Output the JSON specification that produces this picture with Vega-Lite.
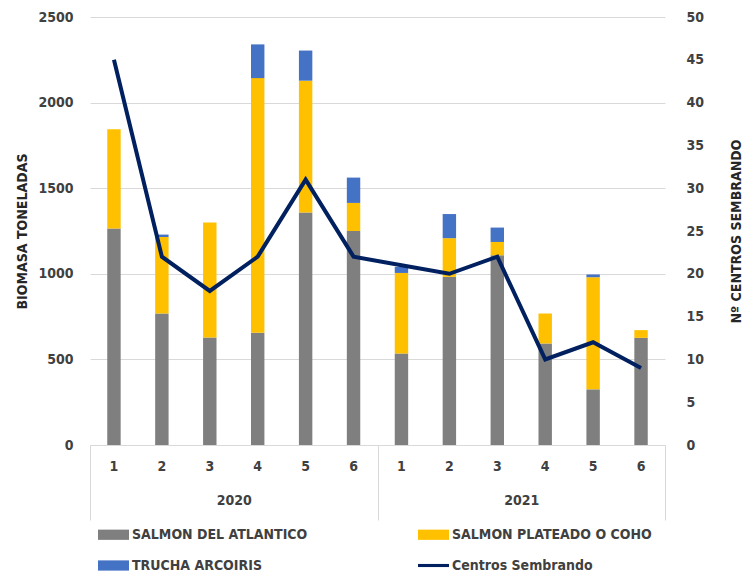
{
  "$schema": "https://vega.github.io/schema/vega-lite/v6.json",
  "width": 575,
  "height": 428,
  "autosize": {"type": "none"},
  "padding": {"left": 90, "top": 17, "right": 88, "bottom": 128},
  "background": "white",
  "config": {
    "font": "DejaVu Sans Condensed, sans-serif",
    "view": {"stroke": null},
    "axis": {"labelFontSize": 14, "labelFontWeight": "bold", "labelColor": "#404040", "titleFontSize": 14, "titleFontWeight": "bold", "titleColor": "#262626"},
    "legend": {"labelFontSize": 14, "labelFontWeight": "bold", "labelColor": "#404040", "labelLimit": 400}
  },
  "datasets": {
    "biomasa": [
      {"key": "2020-1", "serie": "SALMON DEL ATLANTICO", "biomasa": 1264},
      {"key": "2020-1", "serie": "SALMON PLATEADO O COHO", "biomasa": 580},
      {"key": "2020-1", "serie": "TRUCHA ARCOIRIS", "biomasa": 0},
      {"key": "2020-2", "serie": "SALMON DEL ATLANTICO", "biomasa": 768},
      {"key": "2020-2", "serie": "SALMON PLATEADO O COHO", "biomasa": 447},
      {"key": "2020-2", "serie": "TRUCHA ARCOIRIS", "biomasa": 14},
      {"key": "2020-3", "serie": "SALMON DEL ATLANTICO", "biomasa": 628},
      {"key": "2020-3", "serie": "SALMON PLATEADO O COHO", "biomasa": 671},
      {"key": "2020-3", "serie": "TRUCHA ARCOIRIS", "biomasa": 0},
      {"key": "2020-4", "serie": "SALMON DEL ATLANTICO", "biomasa": 655},
      {"key": "2020-4", "serie": "SALMON PLATEADO O COHO", "biomasa": 1488},
      {"key": "2020-4", "serie": "TRUCHA ARCOIRIS", "biomasa": 197},
      {"key": "2020-5", "serie": "SALMON DEL ATLANTICO", "biomasa": 1358},
      {"key": "2020-5", "serie": "SALMON PLATEADO O COHO", "biomasa": 770},
      {"key": "2020-5", "serie": "TRUCHA ARCOIRIS", "biomasa": 176},
      {"key": "2020-6", "serie": "SALMON DEL ATLANTICO", "biomasa": 1250},
      {"key": "2020-6", "serie": "SALMON PLATEADO O COHO", "biomasa": 164},
      {"key": "2020-6", "serie": "TRUCHA ARCOIRIS", "biomasa": 148},
      {"key": "2021-1", "serie": "SALMON DEL ATLANTICO", "biomasa": 535},
      {"key": "2021-1", "serie": "SALMON PLATEADO O COHO", "biomasa": 470},
      {"key": "2021-1", "serie": "TRUCHA ARCOIRIS", "biomasa": 35},
      {"key": "2021-2", "serie": "SALMON DEL ATLANTICO", "biomasa": 982},
      {"key": "2021-2", "serie": "SALMON PLATEADO O COHO", "biomasa": 226},
      {"key": "2021-2", "serie": "TRUCHA ARCOIRIS", "biomasa": 141},
      {"key": "2021-3", "serie": "SALMON DEL ATLANTICO", "biomasa": 1108},
      {"key": "2021-3", "serie": "SALMON PLATEADO O COHO", "biomasa": 78},
      {"key": "2021-3", "serie": "TRUCHA ARCOIRIS", "biomasa": 84},
      {"key": "2021-4", "serie": "SALMON DEL ATLANTICO", "biomasa": 593},
      {"key": "2021-4", "serie": "SALMON PLATEADO O COHO", "biomasa": 175},
      {"key": "2021-4", "serie": "TRUCHA ARCOIRIS", "biomasa": 0},
      {"key": "2021-5", "serie": "SALMON DEL ATLANTICO", "biomasa": 325},
      {"key": "2021-5", "serie": "SALMON PLATEADO O COHO", "biomasa": 655},
      {"key": "2021-5", "serie": "TRUCHA ARCOIRIS", "biomasa": 16},
      {"key": "2021-6", "serie": "SALMON DEL ATLANTICO", "biomasa": 626},
      {"key": "2021-6", "serie": "SALMON PLATEADO O COHO", "biomasa": 45},
      {"key": "2021-6", "serie": "TRUCHA ARCOIRIS", "biomasa": 0}
    ],
    "centros": [
      {"key": "2020-1", "centros": 45},
      {"key": "2020-2", "centros": 22},
      {"key": "2020-3", "centros": 18},
      {"key": "2020-4", "centros": 22},
      {"key": "2020-5", "centros": 31},
      {"key": "2020-6", "centros": 22},
      {"key": "2021-1", "centros": 21},
      {"key": "2021-2", "centros": 20},
      {"key": "2021-3", "centros": 22},
      {"key": "2021-4", "centros": 10},
      {"key": "2021-5", "centros": 12},
      {"key": "2021-6", "centros": 9}
    ],
    "anios": [
      {"year": "2020"},
      {"year": "2021"}
    ]
  },
  "layer": [
    {
      "data": {"name": "biomasa"},
      "mark": {"type": "bar"},
      "encoding": {
        "x": {
          "field": "key", "type": "nominal",
          "scale": {"type": "band", "paddingInner": 0.72, "paddingOuter": 0.36},
          "axis": {"title": null, "orient": "bottom", "ticks": false, "domainColor": "#d9d9d9", "labelAngle": 0, "labelPadding": 14, "labelExpr": "split(datum.value, '-')[1]"}
        },
        "y": {
          "field": "biomasa", "type": "quantitative", "stack": "zero",
          "scale": {"domain": [0, 2500], "nice": false},
          "axis": {"title": "BIOMASA TONELADAS", "orient": "left", "values": [0, 500, 1000, 1500, 2000, 2500], "format": "d", "domain": false, "ticks": false, "gridColor": "#d9d9d9", "labelPadding": 17, "titlePadding": 8}
        },
        "order": {"field": "serie", "sort": "ascending"},
        "color": {
          "field": "serie", "type": "nominal",
          "scale": {
            "domain": ["SALMON DEL ATLANTICO", "SALMON PLATEADO O COHO", "TRUCHA ARCOIRIS", "Centros Sembrando"],
            "range": ["#7f7f7f", "#ffc000", "#4472c4", "#002060"]
          },
          "legend": {
            "title": null, "orient": "bottom", "columns": 2, "columnPadding": 110, "rowPadding": 8, "padding": 8,
            "symbolSize": 961, "offset": -10, "symbolStrokeWidth": 0, "labelOffset": 3,
            "encode": {
              "symbols": {
                "update": {
                  "shape": {"signal": "datum.value === 'Centros Sembrando' ? 'M-1,-0.1H1V0.1H-1Z' : 'M-1,-0.33H1V0.33H-1Z'"},
                  "fill": {"scale": "color", "field": "value"},
                  "strokeWidth": {"value": 0}
                }
              }
            }
          }
        }
      }
    },
    {
      "data": {"name": "centros"},
      "mark": {"type": "line", "strokeWidth": 4, "strokeJoin": "miter"},
      "encoding": {
        "x": {
          "field": "key", "type": "nominal",
          "scale": {"type": "band", "paddingInner": 0.72, "paddingOuter": 0.36},
          "axis": null
        },
        "y": {
          "field": "centros", "type": "quantitative",
          "scale": {"domain": [0, 50], "nice": false},
          "axis": {"title": "Nº CENTROS SEMBRANDO", "orient": "right", "values": [0, 5, 10, 15, 20, 25, 30, 35, 40, 45, 50], "domain": false, "ticks": false, "grid": false, "labelPadding": 21, "titlePadding": 40, "titleAngle": 270}
        },
        "color": {"datum": "Centros Sembrando"}
      }
    },
    {
      "data": {"name": "anios"},
      "mark": {"type": "point", "opacity": 0},
      "encoding": {
        "x": {
          "field": "year", "type": "nominal",
          "scale": {"type": "band", "paddingInner": 0, "paddingOuter": 0},
          "axis": {"title": null, "orient": "bottom", "offset": 75, "domain": false, "tickBand": "extent", "tickSize": -75, "tickColor": "#d9d9d9", "labelPadding": 48, "labelAngle": 0}
        }
      }
    }
  ],
  "resolve": {"scale": {"x": "independent", "y": "independent"}}
}
